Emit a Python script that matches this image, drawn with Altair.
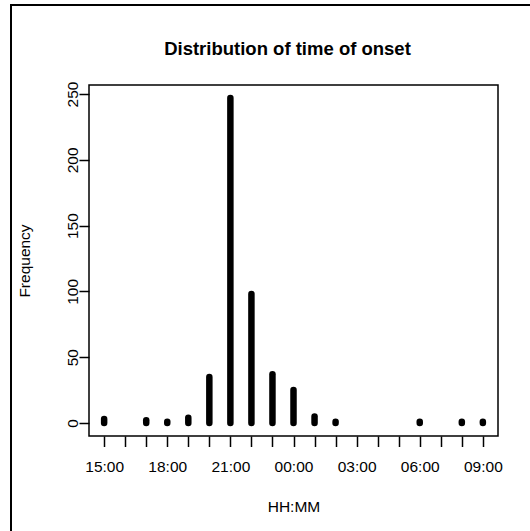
import altair as alt
import pandas as pd

# ---- data ----
onset_time = ["15:00", "17:00", "18:00", "19:00", "20:00", "21:00", "22:00",
              "23:00", "00:00", "01:00", "02:00", "06:00", "08:00", "09:00"]
frequency = [3, 2, 1, 4, 35, 247, 98, 37, 25, 5, 1, 1, 1, 1]

# hourly tick labels (15:00 .. 09:00 next day); only every third is printed
tick_labels = ["15:00", "", "", "18:00", "", "", "21:00", "", "", "00:00",
               "", "", "03:00", "", "", "06:00", "", "", "09:00"]
y_ticks = [0, 50, 100, 150, 200, 250]
main_title = "Distribution of time of onset"

hours_from_start = [(int(t[:2]) - 15) % 24 for t in onset_time]
df = pd.DataFrame({"hour": hours_from_start, "time": onset_time, "freq": frequency})

FONT = "Liberation Sans"
W, H = 409, 351
PL, PT = 89, 85

n = len(tick_labels) - 1
xpad = 0.04 * n
ymax = max(frequency)
ypad = 0.04 * ymax

label_js = "[" + ",".join("'%s'" % s for s in tick_labels) + "]"

x_enc = alt.X(
    "hour:Q",
    scale=alt.Scale(domain=[-xpad, n + xpad], nice=False, zero=False),
    axis=alt.Axis(
        values=list(range(len(tick_labels))),
        labelExpr=label_js + "[datum.value]",
        title="HH:MM",
        domain=False, grid=False,
        tickSize=10.5, tickWidth=1.5, tickColor="black",
        labelFont=FONT, labelFontSize=15.5, labelColor="black",
        labelBaseline="alphabetic", labelPadding=25, labelFlush=False,
        labelOverlap=False,
        titleFont=FONT, titleFontSize=15.5, titleFontWeight="normal",
        titleColor="black", titleBaseline="alphabetic", titleY=75,
    ),
)
y_enc = alt.Y(
    "freq:Q",
    scale=alt.Scale(domain=[-ypad, ymax + ypad], nice=False, zero=False),
    axis=alt.Axis(
        values=y_ticks,
        title="Frequency",
        domain=False, grid=False,
        tickSize=10, tickWidth=1.5, tickColor="black",
        labelFont=FONT, labelFontSize=15.5, labelColor="black",
        labelAngle=-90, labelAlign="center", labelBaseline="alphabetic",
        labelPadding=2, labelFlush=False, labelOverlap=False,
        titleFont=FONT, titleFontSize=15.5, titleFontWeight="normal",
        titleColor="black", titleAngle=-90, titleAlign="center",
        titleBaseline="alphabetic", titleX=-60, titleY=H / 2,
    ),
)

bars = alt.Chart(df).mark_rule(
    color="black", strokeWidth=6.5, strokeCap="round"
).encode(x=x_enc, y=y_enc, y2=alt.datum(0))

# main title, centred over the plot region
title_mark = alt.Chart(pd.DataFrame({"t": [main_title]})).mark_text(
    font=FONT, fontSize=18.5, fontWeight="bold", color="black",
    align="center", baseline="alphabetic", clip=False,
).encode(text="t:N", x=alt.value(W / 2 - 6), y=alt.value(55 - PT))

# outer frame pieces (partially visible device border)
frame_top = alt.Chart(df).mark_rule(color="black", strokeWidth=2, clip=False).encode(
    x=alt.value(10 - PL), x2=alt.value(530 - PL), y=alt.value(5 - PT)
)
frame_left = alt.Chart(df).mark_rule(color="black", strokeWidth=2, clip=False).encode(
    x=alt.value(11 - PL), y=alt.value(5 - PT), y2=alt.value(531 - PT)
)

chart = alt.layer(bars, title_mark, frame_top, frame_left).properties(
    width=W, height=H,
    background="white",
    autosize=alt.AutoSizeParams(type="none"),
    padding={"left": PL, "top": PT, "right": 530 - PL - W, "bottom": 531 - PT - H},
).configure_view(stroke="black", strokeWidth=1.5)

chart.save("out.html", embed_options={"renderer": "svg", "actions": False})
